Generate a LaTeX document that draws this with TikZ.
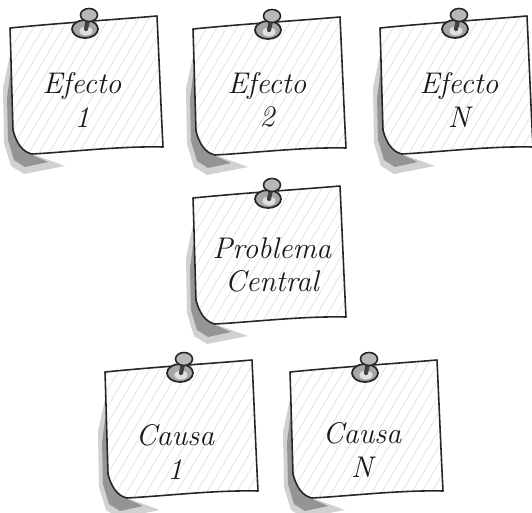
\documentclass[tikz,border=0pt]{standalone}
\usepackage{tikz}

\tikzset{
  paper/.style={fill=white, draw=black!85, line width=0.9pt, line join=round},
  noteshadow/.style={fill=black!42, draw=none},
  softshadow/.style={fill=black!18, draw=none},
  hatch/.style={draw=black!13, line width=0.35pt},
  pinbase/.style={fill=black!35, draw=black!85, line width=1pt},
  pinknob/.style={fill=black!28, draw=black!85, line width=0.9pt},
  notetext/.style={font=\fontsize{17}{19}\selectfont\itshape, align=center, text=black!90},
  noteoutline/.style={insert path={
    (0,0) .. controls (50,-5) and (100,-8) .. (147,-12)
    .. controls (149,30) and (151,80) .. (153,119)
    .. controls (110,118) and (60,124) .. (22,126)
    .. controls (12,124) and (6,114) .. (3,102)
    .. controls (2,70) and (1,30) .. cycle}},
  pics/postit/.style={code={
    % sombra del lado izquierdo
    \fill[softshadow] (1,22) -- (-7,60) -- (-6,115) -- (1,138) -- (14,146) -- (55,138) -- (22,126) -- cycle;
    \fill[noteshadow] (1,40) -- (-3,70) -- (-2,112) -- (4,132) -- (15,139) -- (38,134) -- (20,126) -- (5,110) -- cycle;
    \fill[white, noteoutline];
    \begin{scope}
      \clip[noteoutline];
      \foreach \i in {-130,-120,...,130}
        \draw[hatch] (\i,140) -- (\i+95,-20);
    \end{scope}
    \draw[paper, fill=none, noteoutline];
    % chincheta
    \draw[pinbase] (75,1) ellipse [x radius=13, y radius=9];
    \fill[black!12] (76,3) ellipse [x radius=6.5, y radius=4.5];
    \draw[black!75, line width=2.4pt, line cap=round] (78,-8) -- (76,1);
    \draw[pinknob] (79,-13) ellipse [x radius=8.5, y radius=6.5];
  }}
}

\begin{document}
\begin{tikzpicture}[x=0.02cm, y=-0.02cm]
  \useasboundingbox (0,0) rectangle (532,513);
  \clip (0,0) rectangle (532,513);

  \pic at (10,28) {postit};
  \pic at (193,29) {postit};
  \pic at (380,28) {postit};
  \pic at (193,198) {postit};
  \pic at (105,372) {postit};
  \pic at (290,372) {postit};

  \node[notetext] (efecto1) at (82,100) {Efecto\\1};
  \node[notetext] (efecto2) at (267,100) {Efecto\\2};
  \node[notetext] (efectoN) at (459,100) {Efecto\\N};
  \node[notetext] (problema) at (272,265) {Problema\\Central};
  \node[notetext] (causa1) at (175,452) {Causa\\1};
  \node[notetext] (causaN) at (362,450) {Causa\\N};
\end{tikzpicture}
\end{document}
